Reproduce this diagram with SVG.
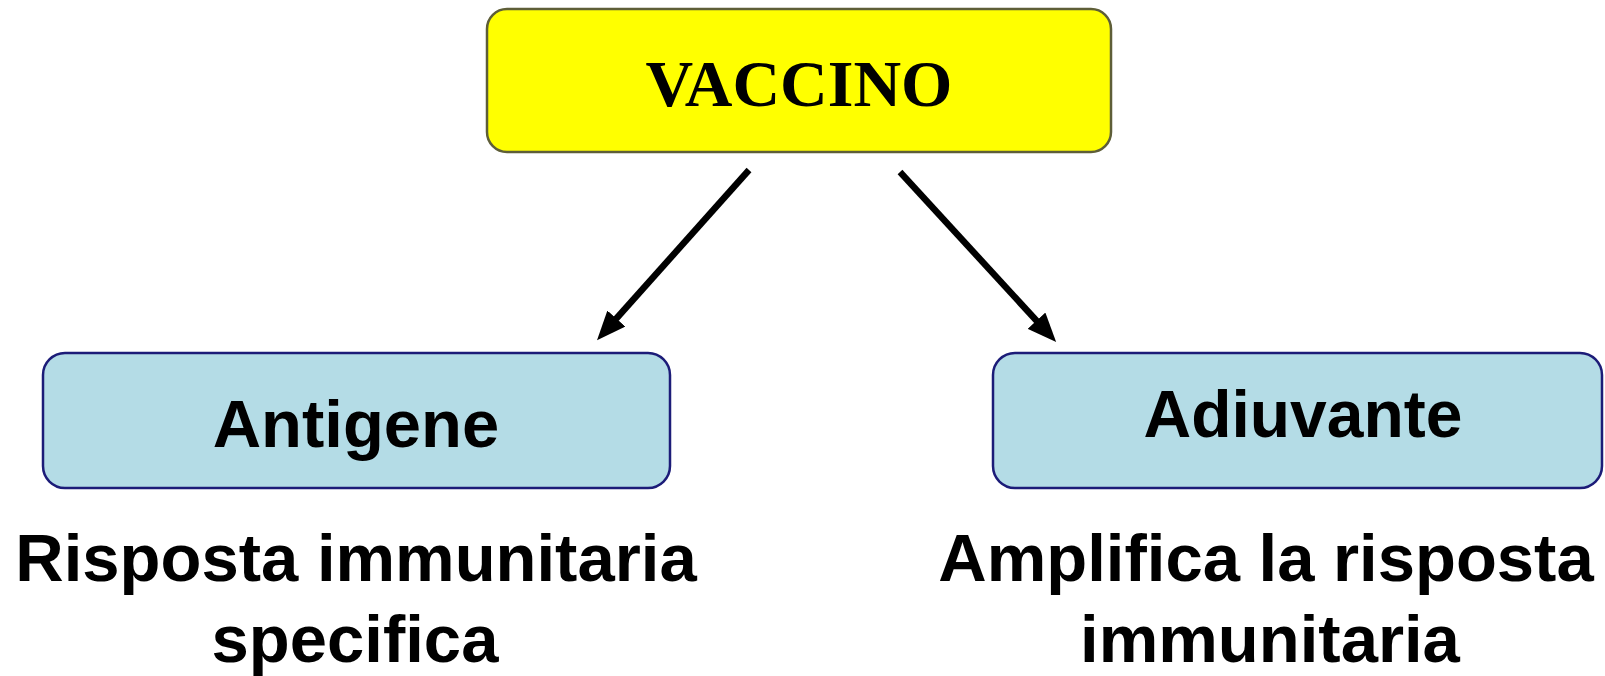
<svg xmlns="http://www.w3.org/2000/svg" width="1605" height="676" viewBox="0 0 1605 676">
<style>
.yel{fill:#FFFF00;stroke:#5e5e38;stroke-width:2.5}
.blu{fill:#B4DCE6;stroke:#1c1c78;stroke-width:2.5}
.serif{font-family:"Liberation Serif","Times New Roman",serif;font-weight:bold;fill:#000;text-anchor:middle}
.sans{font-family:"Liberation Sans",Arial,sans-serif;font-weight:bold;fill:#000;text-anchor:middle}
.conn{stroke:#000;stroke-width:6.5;fill:none;marker-end:url(#ah)}
</style>
<defs>
<marker id="ah" markerUnits="userSpaceOnUse" markerWidth="30" markerHeight="24" refX="14" refY="12" orient="auto">
<path d="M0,0 L29,12 L0,24 Z" fill="#000"/>
</marker>
</defs>
<rect width="1605" height="676" fill="#fff"/>
<g id="connectors">
<line class="conn" x1="749" y1="170" x2="607" y2="329"/>
<line class="conn" x1="900" y1="172" x2="1046" y2="331"/>
</g>
<g id="vaccino">
<rect class="yel" x="487" y="9" width="624" height="143" rx="20"/>
<text class="serif" x="799" y="106" font-size="66">VACCINO</text>
</g>
<g id="antigene">
<rect class="blu" x="43" y="353" width="627" height="135" rx="22"/>
<text class="sans" x="356" y="447" font-size="67">Antigene</text>
</g>
<g id="adiuvante">
<rect class="blu" x="993" y="353" width="609" height="135" rx="22"/>
<text class="sans" x="1303" y="437" font-size="66">Adiuvante</text>
</g>
<g id="label-antigene">
<text class="sans" x="356" y="581" font-size="67">Risposta immunitaria</text>
<text class="sans" x="355" y="662" font-size="67">specifica</text>
</g>
<g id="label-adiuvante">
<text class="sans" x="1266" y="581" font-size="67">Amplifica la risposta</text>
<text class="sans" x="1270" y="662" font-size="67">immunitaria</text>
</g>
</svg>
